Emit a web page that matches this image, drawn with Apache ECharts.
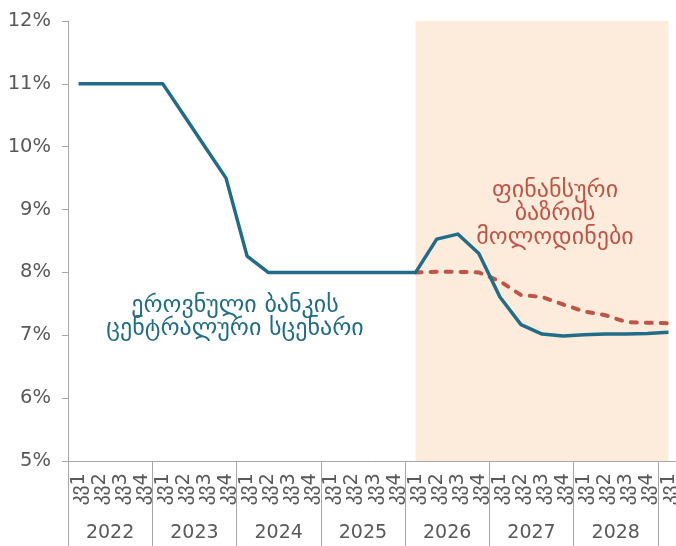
<!DOCTYPE html>
<html>
<head>
<meta charset="utf-8">
<script src="https://cdn.jsdelivr.net/npm/echarts@6/dist/echarts.min.js"></script>
<style>
  html, body { margin: 0; padding: 0; background: #fff; }
  #chart { width: 676px; height: 546px; }
</style>
</head>
<body>
<div id="chart"></div>
<script>
// კვარტლები: 2022 კვ1 ... 2029 კვ1
const years = ['2022', '2023', '2024', '2025', '2026', '2027', '2028'];
const quarters = [];
years.forEach(y => { for (let q = 1; q <= 4; q++) quarters.push(y + '-' + q); });
quarters.push('2029-1');

// ეროვნული ბანკის ცენტრალური სცენარი
const nbgRate = [
  11, 11, 11, 11,
  11, 10.5, 10.0, 9.5,
  8.26, 8.0, 8.0, 8.0,
  8.0, 8.0, 8.0, 8.0,
  8.0, 8.53, 8.61, 8.3,
  7.61, 7.17, 7.02, 6.99,
  7.01, 7.02, 7.02, 7.03,
  7.05
];

// ფინანსური ბაზრის მოლოდინები
const marketRate = [
  null, null, null, null,
  null, null, null, null,
  null, null, null, null,
  null, null, null, null,
  8.0, 8.01, 8.01, 8.0,
  7.86, 7.64, 7.61, 7.49,
  7.38, 7.32, 7.21, 7.2,
  7.19
];

const textColor = '#595959';
const axisColor = '#a6a6a6';
const font = 'DejaVu Sans';

const chart = echarts.init(document.getElementById('chart'));
chart.setOption({
  animation: false,
  textStyle: { fontFamily: font },
  grid: { left: 68, width: 611, top: 21, bottom: 85, outerBoundsMode: 'none', containLabel: false },
  xAxis: [
    {
      type: 'category',
      data: quarters,
      boundaryGap: true,
      axisLine: { lineStyle: { color: axisColor, width: 1 } },
      axisTick: { show: false },
      axisLabel: {
        interval: 0,
        rotate: 90,
        margin: 12,
        fontSize: 19.5,
        color: textColor,
        fontFamily: font,
        formatter: v => 'კვ' + v.split('-')[1]
      }
    },
    {
      type: 'category',
      data: quarters,
      position: 'bottom',
      boundaryGap: true,
      axisLine: { show: false },
      axisTick: {
        show: true,
        interval: i => i % 4 === 0,
        length: 86,
        lineStyle: { color: axisColor }
      },
      axisLabel: {
        interval: 0,
        margin: 63,
        fontSize: 19,
        color: textColor,
        fontFamily: font,
        padding: [0, 0, 0, 21],
        formatter: (v) => {
          const p = v.split('-');
          return p[1] === '2' ? p[0] : '';
        }
      }
    }
  ],
  yAxis: {
    type: 'value',
    min: 5,
    max: 12,
    interval: 1,
    axisLine: { show: true, lineStyle: { color: axisColor } },
    axisTick: { show: true, length: 6, lineStyle: { color: axisColor } },
    splitLine: { show: false },
    axisLabel: {
      margin: 17,
      fontSize: 19.5,
      color: textColor,
      fontFamily: font,
      formatter: '{value}%'
    }
  },
  series: [
    {
      name: 'ცენტრალური სცენარი',
      type: 'line',
      data: nbgRate,
      symbol: 'none',
      lineStyle: { color: '#216c88', width: 3.5, join: 'round' },
      z: 3,
      markArea: {
        silent: true,
        itemStyle: { color: '#fdebdc' },
        data: [[{ xAxis: '2026-1' }, { xAxis: '2029-1' }]]
      }
    },
    {
      name: 'ბაზრის მოლოდინები',
      type: 'line',
      data: marketRate,
      symbol: 'none',
      lineStyle: { color: '#bf5546', width: 4, type: [6, 9], cap: 'round' },
      z: 2
    }
  ],
  graphic: [
    {
      type: 'text',
      x: 235,
      y: 317,
      style: {
        text: 'ეროვნული ბანკის\nცენტრალური სცენარი',
        fill: '#216c88',
        font: '24px "DejaVu Sans"',
        align: 'center',
        verticalAlign: 'middle',
        lineHeight: 23
      },
      z: 10
    },
    {
      type: 'text',
      x: 555,
      y: 214,
      style: {
        text: 'ფინანსური\nბაზრის\nმოლოდინები',
        fill: '#bf5546',
        font: '24px "DejaVu Sans"',
        align: 'center',
        verticalAlign: 'middle',
        lineHeight: 23.5
      },
      z: 10
    }
  ]
});
</script>
</body>
</html>
